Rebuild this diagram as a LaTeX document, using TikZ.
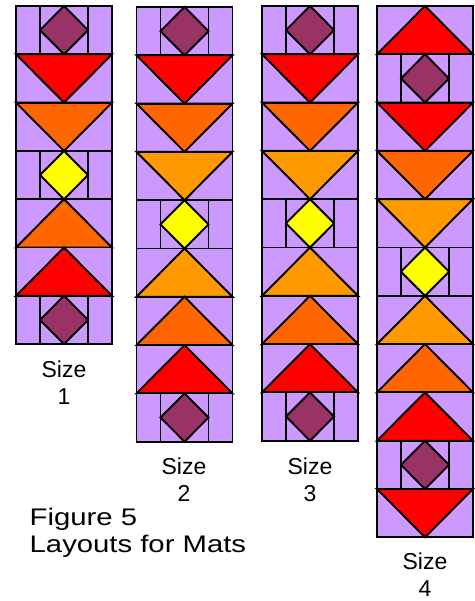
\documentclass[tikz,border=0pt]{standalone}
\usepackage{fontspec}
\setmainfont{Liberation Sans}
\definecolor{lav}{HTML}{CC99FF}
\definecolor{mplum}{HTML}{993366}
\definecolor{dorange}{HTML}{FF6600}
\definecolor{lorange}{HTML}{FF9900}
\definecolor{myellow}{HTML}{FFFF00}
\definecolor{mred}{HTML}{FF0000}
\newcommand\Wd{96}
\newcommand\Ht{48.3}
\tikzset{
  outl/.style={draw=black, line width=1.9pt, line join=miter},
  sizelbl/.style={font=\fontsize{23}{27}\selectfont, inner sep=0pt, anchor=base},
  figlbl/.style={font=\fontsize{24}{27}\selectfont, inner sep=0pt, anchor=base west},
}
% #1 x left, #2 y top, #3 type (0 down, 1 up, 2 diamond), #4 colour
\newcommand\mblk[4]{%
  \begin{scope}[shift={(#1,#2)}]
    \fill[lav] (0,0) rectangle (\Wd,\Ht);
    \ifcase#3
      \path[outl, fill=#4] (0,0) -- (\Wd,0) -- (\Wd/2,\Ht) -- cycle;
    \or
      \path[outl, fill=#4] (0,\Ht) -- (\Wd,\Ht) -- (\Wd/2,0) -- cycle;
    \or
      \path[outl] (\Wd/4,0) rectangle (3*\Wd/4,\Ht);
      \path[outl, fill=#4] (\Wd/2,0) -- (3*\Wd/4,\Ht/2) -- (\Wd/2,\Ht) -- (\Wd/4,\Ht/2) -- cycle;
    \fi
    \path[outl] (0,0) rectangle (\Wd,\Ht);
  \end{scope}}
\begin{document}
\begin{tikzpicture}[x=1pt,y=-1pt]
\useasboundingbox (0,0) rectangle (474,601);
% Size 1
\foreach \k/\c [count=\i from 0] in {2/mplum,0/mred,0/dorange,2/myellow,1/dorange,1/mred,2/mplum}{
  \pgfmathsetmacro\yy{6+\i*\Ht}
  \mblk{16}{\yy}{\k}{\c}}
% Size 2
\foreach \k/\c [count=\i from 0] in {2/mplum,0/mred,0/dorange,0/lorange,2/myellow,1/lorange,1/dorange,1/mred,2/mplum}{
  \pgfmathsetmacro\yy{7+\i*\Ht}
  \mblk{136.5}{\yy}{\k}{\c}}
% Size 3
\foreach \k/\c [count=\i from 0] in {2/mplum,0/mred,0/dorange,0/lorange,2/myellow,1/lorange,1/dorange,1/mred,2/mplum}{
  \pgfmathsetmacro\yy{6+\i*\Ht}
  \mblk{262}{\yy}{\k}{\c}}
% Size 4
\foreach \k/\c [count=\i from 0] in {1/mred,2/mplum,0/mred,0/dorange,0/lorange,2/myellow,1/lorange,1/dorange,1/mred,2/mplum,0/mred}{
  \pgfmathsetmacro\yy{6+\i*\Ht}
  \mblk{377}{\yy}{\k}{\c}}
% labels
\node[sizelbl] (s1a) at (64,377.7) {Size};
\node[sizelbl] (s1b) at (64,404.3) {1};
\node[sizelbl] (s2a) at (184,474) {Size};
\node[sizelbl] (s2b) at (184,501.5) {2};
\node[sizelbl] (s3a) at (310,474) {Size};
\node[sizelbl] (s3b) at (310,501.5) {3};
\node[sizelbl] (s4a) at (425,569) {Size};
\node[sizelbl] (s4b) at (425,596) {4};
\node[figlbl] (fig) at (29.5,525.7) {\scalebox{1.22}[1]{Figure 5}};
\node[figlbl] (lay) at (29.5,552.3) {\scalebox{1.22}[1]{Layouts for Mats}};
\end{tikzpicture}
\end{document}
